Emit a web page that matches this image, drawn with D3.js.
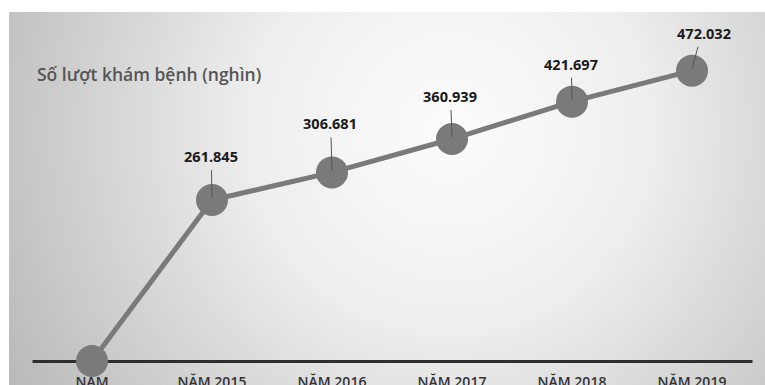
<!DOCTYPE html>
<html><head><meta charset="utf-8">
<script src="https://cdn.jsdelivr.net/npm/d3@7"></script>
<style>html,body{margin:0;padding:0;background:#fff;overflow:hidden}</style>
</head><body>
<script>
const categories = ["NĂM", "NĂM 2015", "NĂM 2016", "NĂM 2017", "NĂM 2018", "NĂM 2019"];
const values = [0, 261.845, 306.681, 360.939, 421.697, 472.032];
const valueLabels = [null, "261.845", "306.681", "360.939", "421.697", "472.032"];
const titleText = "Số lượt khám bệnh (nghìn)";
// label layout (offsets from point, px)
const labelDx = [0, -1, -2, -2, -1, 12];
const labelDy = [0, -38, -43, -37, -32, -32];

const W = 765, H = 385;
const svg = d3.select("body").append("svg").attr("width", W).attr("height", H);
const defs = svg.append("defs");
const grad = defs.append("radialGradient").attr("id", "bg")
  .attr("gradientUnits", "userSpaceOnUse")
  .attr("cx", 450).attr("cy", 130).attr("r", 500);
grad.append("stop").attr("offset", "0%").attr("stop-color", "#fcfcfc");
grad.append("stop").attr("offset", "40%").attr("stop-color", "#eeeeee");
grad.append("stop").attr("offset", "100%").attr("stop-color", "#bababa");

svg.append("rect").attr("x", 9).attr("y", 12).attr("width", W - 9).attr("height", H - 12).attr("fill", "url(#bg)");

const x = d3.scaleBand().domain(categories).range([32, 752]);
const y = d3.scaleLinear().domain([0, 500]).range([361, 53.5]);
const cx = (d, i) => x(categories[i]) + x.bandwidth() / 2;

// axis
const axis = d3.axisBottom(x).tickSize(0).tickPadding(0);
const ag = svg.append("g").attr("transform", `translate(0,${y(0)})`).call(axis);
ag.select(".domain").attr("stroke", "#2e2e2e").attr("stroke-width", 3);
ag.selectAll("text").attr("dy", null).attr("y", 26)
  .attr("font-family", "Open Sans").attr("font-weight", 600).attr("font-size", 14)
  .attr("fill", "#333");

// line
const line = d3.line().x((d, i) => cx(d, i)).y(d => y(d));
svg.append("path").datum(values).attr("d", line)
  .attr("fill", "none").attr("stroke", "#7a7a7a").attr("stroke-width", 5);

// points
svg.selectAll("circle.pt").data(values).join("circle").attr("class", "pt")
  .attr("cx", (d, i) => cx(d, i)).attr("cy", d => y(d)).attr("r", 16)
  .attr("fill", "#7a7a7a");

// leaders
svg.selectAll("line.lead").data(values.map((v, i) => ({v, i})).filter(d => valueLabels[d.i]))
  .join("line").attr("class", "lead")
  .attr("x1", d => cx(d.v, d.i) + labelDx[d.i] * 0.5)
  .attr("y1", d => y(d.v) + labelDy[d.i] + 8)
  .attr("x2", d => cx(d.v, d.i))
  .attr("y2", d => y(d.v) - 2)
  .attr("stroke", "#555").attr("stroke-width", 1);

// value labels
svg.selectAll("text.val").data(values.map((v, i) => ({v, i})).filter(d => valueLabels[d.i]))
  .join("text").attr("class", "val")
  .attr("x", d => cx(d.v, d.i) + labelDx[d.i])
  .attr("y", d => y(d.v) + labelDy[d.i])
  .attr("text-anchor", "middle")
  .attr("font-family", "Open Sans").attr("font-weight", 700).attr("font-size", 14.5)
  .attr("fill", "#1a1a1a")
  .text(d => valueLabels[d.i]);

// title
svg.append("text").attr("x", 37).attr("y", 81)
  .attr("font-family", "Open Sans").attr("font-weight", 600).attr("font-size", 17.5)
  .attr("fill", "#555").text(titleText);
</script>
</body></html>
